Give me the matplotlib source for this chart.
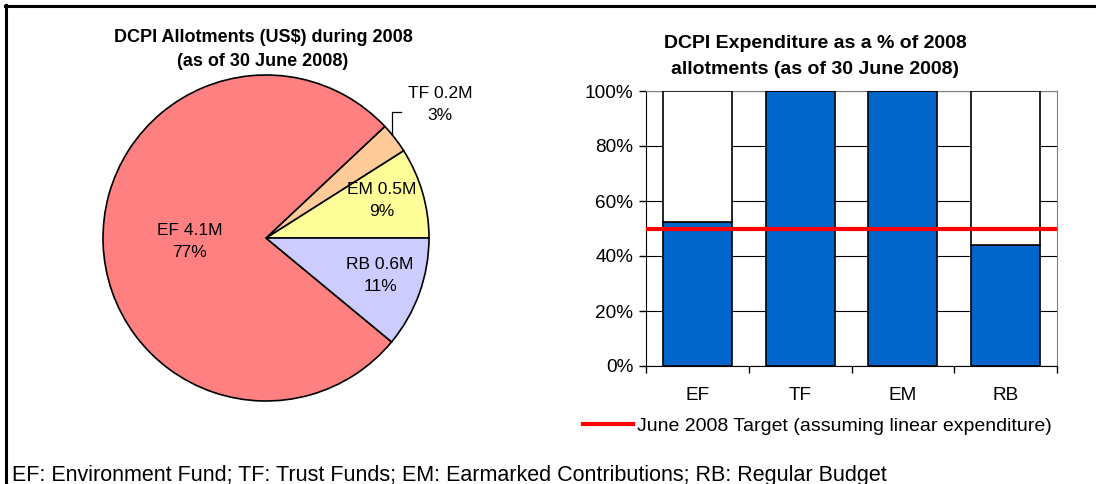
import matplotlib.pyplot as plt
from matplotlib.lines import Line2D

plt.rcParams['font.family'] = ['Liberation Sans', 'DejaVu Sans']

# data
funds = ['EF', 'TF', 'EM', 'RB']
allot_m = [4.1, 0.2, 0.5, 0.6]
allot_pct = [77, 3, 9, 11]
pie_colors = ['#FF8080', '#FFCC99', '#FFFF99', '#CCCCFF']
spent_pct = [52.5, 100, 100, 44]
target_pct = 50
footer = 'EF: Environment Fund; TF: Trust Funds; EM: Earmarked Contributions; RB: Regular Budget'

W, H = 1096, 484
fig = plt.figure(figsize=(W / 100, H / 100), dpi=100)

# outer frame (only top & left visible in the reference)
fig.add_artist(Line2D([5 / W, 1], [1 - 6 / H, 1 - 6 / H], color='black', lw=2.2))
fig.add_artist(Line2D([6 / W, 6 / W], [0, 1 - 5 / H], color='black', lw=2.2))

# ---------- pie ----------
cx, cy, r = 266, 238, 163
ax1 = fig.add_axes([(cx - r) / W, (H - cy - r) / H, 2 * r / W, 2 * r / H])
order = [2, 1, 0, 3]  # EM, TF, EF, RB counter-clockwise from 3 o'clock
wedges, _ = ax1.pie([allot_pct[i] for i in order], colors=[pie_colors[i] for i in order],
                    startangle=0, counterclock=True, radius=1,
                    wedgeprops=dict(edgecolor='black', linewidth=1.2))
ax1.set_xlim(-1, 1)
ax1.set_ylim(-1, 1)
ax1.set_aspect('equal')
ax1.axis('off')

label_pos = {'EF': (-0.47, -0.02), 'TF': (1.07, 0.82), 'EM': (0.71, 0.23), 'RB': (0.70, -0.23)}
for i, f in enumerate(funds):
    x, y = label_pos[f]
    ax1.text(x, y, f'{f} {allot_m[i]}M\n{allot_pct[i]}%', ha='center', va='center',
             fontsize=12.5, linespacing=1.55, clip_on=False)
# leader line for TF
ax1.plot([0.775, 0.775, 0.83], [0.63, 0.77, 0.77], color='black', lw=0.9, clip_on=False)

fig.text(263 / W, 1 - 38 / H, 'DCPI Allotments (US$) during 2008', ha='center', va='center',
         fontsize=13, fontweight='bold')
fig.text(263 / W, 1 - 62 / H, '(as of 30 June 2008)', ha='center', va='center',
         fontsize=13, fontweight='bold')

# ---------- bars ----------
ax2 = fig.add_axes([646 / W, (H - 366) / H, 411 / W, 275 / H])
xs = range(len(funds))
ax2.bar(xs, spent_pct, width=0.67, color='#0066CC', edgecolor='black', linewidth=1.2, zorder=3)
ax2.bar(xs, [100 - v for v in spent_pct], bottom=spent_pct, width=0.67, color='white',
        edgecolor='black', linewidth=1.2, zorder=3)
ax2.axhline(target_pct, color='#FF0000', lw=3, zorder=4)
ax2.set_xlim(-0.5, len(funds) - 0.5)
ax2.set_ylim(0, 100)
ax2.set_yticks(range(0, 101, 20))
ax2.set_yticklabels([f'{v}%' for v in range(0, 101, 20)], fontsize=13.7)
ax2.set_xticks(list(xs))
ax2.set_xticklabels(funds, fontsize=13.7)
ax2.set_xticks([i - 0.5 for i in range(len(funds) + 1)], minor=True)
ax2.tick_params(axis='x', which='major', length=0, pad=15)
ax2.tick_params(axis='x', which='minor', length=5, width=1, direction='out')
ax2.tick_params(axis='y', length=5, width=1, direction='out', pad=4)
ax2.yaxis.grid(True, color='black', lw=0.8, zorder=0)
ax2.set_axisbelow(True)
for s in ['top', 'right']:
    ax2.spines[s].set_color('#808080')
for s in ['left', 'bottom']:
    ax2.spines[s].set_color('black')

fig.text(815 / W, 1 - 43 / H, 'DCPI Expenditure as a % of 2008', ha='center', va='center',
         fontsize=14, fontweight='bold')
fig.text(815 / W, 1 - 70 / H, 'allotments (as of 30 June 2008)', ha='center', va='center',
         fontsize=14, fontweight='bold')

# legend
fig.legend([Line2D([], [], color='#FF0000', lw=3)],
           ['June 2008 Target (assuming linear expenditure)'],
           loc='center left', bbox_to_anchor=(583 / W, 1 - 426 / H), frameon=False,
           fontsize=14, handlelength=2.57, handletextpad=0.2, borderpad=0, borderaxespad=0)

fig.text(12 / W, 1 - 475 / H, footer, ha='left', va='center', fontsize=15.5)

fig.savefig('out.png', dpi=100)
